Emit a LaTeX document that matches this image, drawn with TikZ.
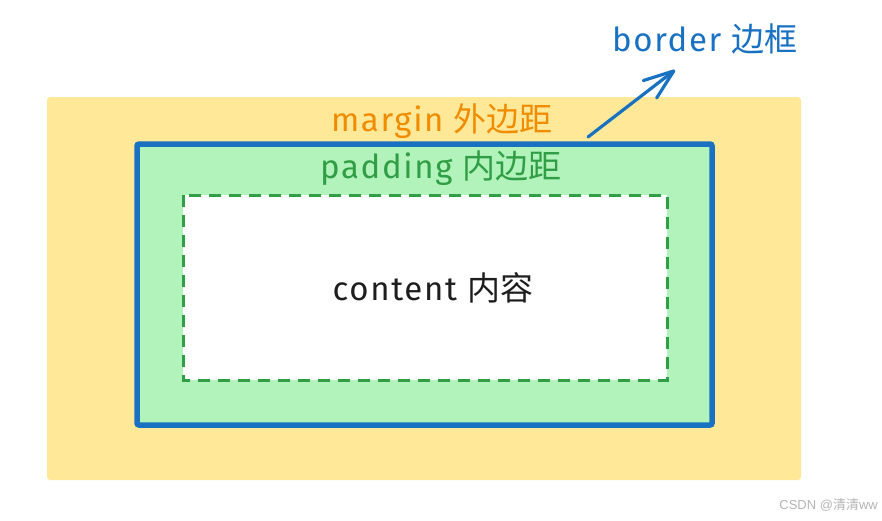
\documentclass[tikz,border=0pt]{standalone}
\usepackage{fontspec}
\setmainfont[LetterSpace=5]{Fira Sans}
\newfontfamily\cjkf{Noto Sans CJK SC}
\newfontfamily\wmfont{Liberation Sans}
\usetikzlibrary{arrows.meta}
\definecolor{marginfill}{RGB}{255,233,153}
\definecolor{paddingfill}{RGB}{178,242,187}
\definecolor{borderblue}{RGB}{25,113,194}
\definecolor{padgreen}{RGB}{47,158,68}
\definecolor{marginorange}{RGB}{240,140,0}
\definecolor{inkblack}{RGB}{30,30,30}
\definecolor{wmgray}{RGB}{180,180,180}
\tikzset{
  lbl/.style={font=\fontsize{33}{36}\selectfont, inner sep=0pt, anchor=center},
  wm/.style={font=\wmfont\fontsize{13}{15}\selectfont, text=wmgray, inner sep=0pt},
}
\begin{document}
\begin{tikzpicture}[x=1pt,y=-1pt]
\useasboundingbox (0,0) rectangle (882,520);
% margin
\fill[marginfill, rounded corners=3pt] (47,97) rectangle (801,480);
% border + padding
\filldraw[fill=paddingfill, draw=borderblue, line width=5.5pt, rounded corners=2pt] (137,144) rectangle (712,425);
% content
\filldraw[fill=white, draw=padgreen, line width=3pt, dash pattern=on 12pt off 8pt] (183,195) rectangle (667,380);
% labels
\node[lbl, text=borderblue] (borderlbl) at (705,39) {border {\cjkf 边框}};
\node[lbl, text=marginorange] (marginlbl) at (442,121) {margin {\cjkf 外边距}};
\node[lbl, text=padgreen] (paddinglbl) at (441,168) {padding {\cjkf 内边距}};
\node[lbl, text=inkblack] (contentlbl) at (433,288) {content {\cjkf 内容}};
\node[wm, anchor=east] (wmark) at (878,505) {CSDN @{\cjkf 清清}ww};
% arrow
\coordinate (arrstart) at (588,137);
\coordinate (arrend) at (675,70);
\draw[borderblue, line width=3.2pt, line cap=round, -{Straight Barb[length=30pt,width=22pt,line width=3.2pt,round]}] (arrstart) -- (arrend);
\end{tikzpicture}
\end{document}
